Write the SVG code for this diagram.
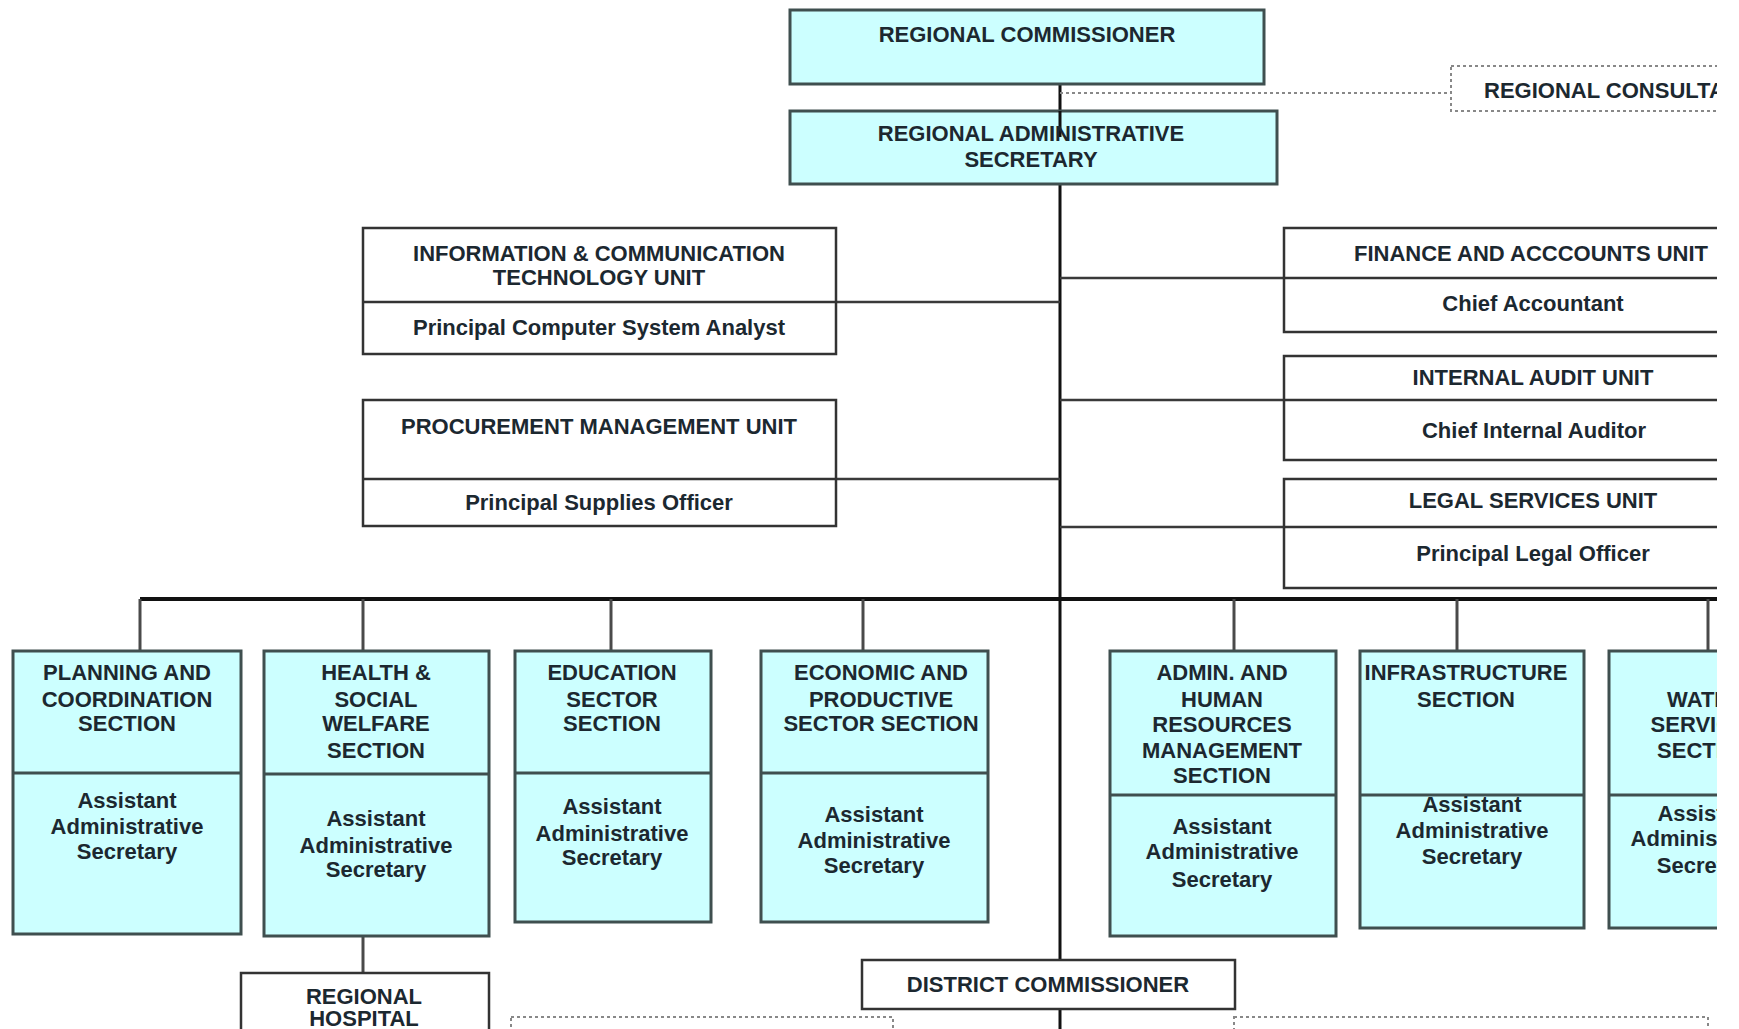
<svg xmlns="http://www.w3.org/2000/svg" width="1739" height="1029" viewBox="0 0 1739 1029">
<style>
.sec{fill:#ccffff;stroke:#3f4f4f;stroke-width:3}
.unit{fill:#ffffff;stroke:#333;stroke-width:2.5}
.div{stroke:#3f4f4f;stroke-width:3}
.udiv{stroke:#333;stroke-width:2.5}
.t{font-family:"Liberation Sans",Arial,sans-serif;font-size:22px;font-weight:bold;fill:#1c2830;text-anchor:middle}
.ts{font-family:"Liberation Sans",Arial,sans-serif;font-size:22px;font-weight:bold;fill:#1c2830;text-anchor:start}
.dot{fill:none;stroke:#888;stroke-width:2;stroke-dasharray:3 3}
.main{stroke:#111;stroke-width:3;fill:none}
.bus{stroke:#111;stroke-width:4;fill:none}
.br{stroke:#3a3a3a;stroke-width:2.5;fill:none}
.drop{stroke:#4a4a4a;stroke-width:3;fill:none}
</style>
<defs>
<clipPath id="page"><rect x="0" y="0" width="1717" height="1029"/></clipPath>
</defs>
<rect x="0" y="0" width="1739" height="1029" fill="#ffffff"/>
<g clip-path="url(#page)">

<g id="connectors">
<line class="main" x1="1060" y1="84" x2="1060" y2="960"/>
<line class="main" x1="1060" y1="1009" x2="1060" y2="1029"/>
<line class="dot" x1="1060" y1="93" x2="1451" y2="93"/>
<line class="br" x1="836" y1="302" x2="1060" y2="302"/>
<line class="br" x1="836" y1="479" x2="1060" y2="479"/>
<line class="br" x1="1060" y1="278" x2="1284" y2="278"/>
<line class="br" x1="1060" y1="400" x2="1284" y2="400"/>
<line class="br" x1="1060" y1="527" x2="1284" y2="527"/>
<line class="bus" x1="140" y1="599" x2="1717" y2="599"/>
<line class="drop" x1="140" y1="599" x2="140" y2="651"/>
<line class="drop" x1="363" y1="599" x2="363" y2="651"/>
<line class="drop" x1="611" y1="599" x2="611" y2="651"/>
<line class="drop" x1="863" y1="599" x2="863" y2="651"/>
<line class="drop" x1="1234" y1="599" x2="1234" y2="651"/>
<line class="drop" x1="1457" y1="599" x2="1457" y2="651"/>
<line class="drop" x1="1708" y1="599" x2="1708" y2="651"/>
<line class="drop" x1="363" y1="936" x2="363" y2="973"/>
</g>

<g id="regional-commissioner">
<rect class="sec" x="790" y="10" width="474" height="74"/>
<text class="t" x="1027" y="42">REGIONAL COMMISSIONER</text>
</g>

<g id="regional-administrative-secretary">
<rect class="sec" x="790" y="111" width="487" height="73"/>
<line class="main" x1="1060" y1="111" x2="1060" y2="137"/>
<text class="t" x="1031" y="141">REGIONAL ADMINISTRATIVE</text>
<text class="t" x="1031" y="167">SECRETARY</text>
</g>

<g id="regional-consultative">
<rect class="dot" x="1451" y="66" width="320" height="45"/>
<text class="ts" x="1484" y="98">REGIONAL CONSULTATIVE</text>
</g>

<g id="ict-unit">
<rect class="unit" x="363" y="228" width="473" height="126"/>
<line class="udiv" x1="363" y1="302" x2="836" y2="302"/>
<text class="t" x="599" y="261">INFORMATION &amp; COMMUNICATION</text>
<text class="t" x="599" y="285">TECHNOLOGY UNIT</text>
<text class="t" x="599" y="335">Principal Computer System Analyst</text>
</g>

<g id="procurement-unit">
<rect class="unit" x="363" y="400" width="473" height="126"/>
<line class="udiv" x1="363" y1="479" x2="836" y2="479"/>
<text class="t" x="599" y="434">PROCUREMENT MANAGEMENT UNIT</text>
<text class="t" x="599" y="510">Principal Supplies Officer</text>
</g>

<g id="finance-unit">
<rect class="unit" x="1284" y="228" width="500" height="104"/>
<line class="udiv" x1="1284" y1="278" x2="1784" y2="278"/>
<text class="t" x="1531" y="261">FINANCE AND ACCCOUNTS UNIT</text>
<text class="t" x="1533" y="311">Chief Accountant</text>
</g>

<g id="internal-audit-unit">
<rect class="unit" x="1284" y="356" width="500" height="104"/>
<line class="udiv" x1="1284" y1="400" x2="1784" y2="400"/>
<text class="t" x="1533" y="385">INTERNAL AUDIT UNIT</text>
<text class="t" x="1534" y="438">Chief Internal Auditor</text>
</g>

<g id="legal-unit">
<rect class="unit" x="1284" y="479" width="500" height="109"/>
<line class="udiv" x1="1284" y1="527" x2="1784" y2="527"/>
<text class="t" x="1533" y="508">LEGAL SERVICES UNIT</text>
<text class="t" x="1533" y="561">Principal Legal Officer</text>
</g>

<g id="planning-section">
<rect class="sec" x="13" y="651" width="228" height="283"/>
<line class="div" x1="13" y1="773" x2="241" y2="773"/>
<text class="t" x="127" y="680">PLANNING AND</text>
<text class="t" x="127" y="707">COORDINATION</text>
<text class="t" x="127" y="731">SECTION</text>
<text class="t" x="127" y="808">Assistant</text>
<text class="t" x="127" y="834">Administrative</text>
<text class="t" x="127" y="859">Secretary</text>
</g>

<g id="health-section">
<rect class="sec" x="264" y="651" width="225" height="285"/>
<line class="div" x1="264" y1="774" x2="489" y2="774"/>
<text class="t" x="376" y="680">HEALTH &amp;</text>
<text class="t" x="376" y="707">SOCIAL</text>
<text class="t" x="376" y="731">WELFARE</text>
<text class="t" x="376" y="758">SECTION</text>
<text class="t" x="376" y="826">Assistant</text>
<text class="t" x="376" y="853">Administrative</text>
<text class="t" x="376" y="877">Secretary</text>
</g>

<g id="education-section">
<rect class="sec" x="515" y="651" width="196" height="271"/>
<line class="div" x1="515" y1="773" x2="711" y2="773"/>
<text class="t" x="612" y="680">EDUCATION</text>
<text class="t" x="612" y="707">SECTOR</text>
<text class="t" x="612" y="731">SECTION</text>
<text class="t" x="612" y="814">Assistant</text>
<text class="t" x="612" y="841">Administrative</text>
<text class="t" x="612" y="865">Secretary</text>
</g>

<g id="economic-section">
<rect class="sec" x="761" y="651" width="227" height="271"/>
<line class="div" x1="761" y1="773" x2="988" y2="773"/>
<text class="t" x="881" y="680">ECONOMIC AND</text>
<text class="t" x="881" y="707">PRODUCTIVE</text>
<text class="t" x="881" y="731">SECTOR SECTION</text>
<text class="t" x="874" y="822">Assistant</text>
<text class="t" x="874" y="848">Administrative</text>
<text class="t" x="874" y="873">Secretary</text>
</g>

<g id="admin-hr-section">
<rect class="sec" x="1110" y="651" width="226" height="285"/>
<line class="div" x1="1110" y1="795" x2="1336" y2="795"/>
<text class="t" x="1222" y="680">ADMIN. AND</text>
<text class="t" x="1222" y="707">HUMAN</text>
<text class="t" x="1222" y="732">RESOURCES</text>
<text class="t" x="1222" y="758">MANAGEMENT</text>
<text class="t" x="1222" y="783">SECTION</text>
<text class="t" x="1222" y="834">Assistant</text>
<text class="t" x="1222" y="859">Administrative</text>
<text class="t" x="1222" y="887">Secretary</text>
</g>

<g id="infrastructure-section">
<rect class="sec" x="1360" y="651" width="224" height="277"/>
<line class="div" x1="1360" y1="795" x2="1584" y2="795"/>
<text class="t" x="1466" y="680">INFRASTRUCTURE</text>
<text class="t" x="1466" y="707">SECTION</text>
<text class="t" x="1472" y="812">Assistant</text>
<text class="t" x="1472" y="838">Administrative</text>
<text class="t" x="1472" y="864">Secretary</text>
</g>

<g id="water-section">
<rect class="sec" x="1609" y="651" width="200" height="277"/>
<line class="div" x1="1609" y1="795" x2="1809" y2="795"/>
<text class="t" x="1706" y="707">WATER</text>
<text class="t" x="1706" y="732">SERVICES</text>
<text class="t" x="1706" y="758">SECTION</text>
<text class="t" x="1707" y="821">Assistant</text>
<text class="t" x="1707" y="846">Administrative</text>
<text class="t" x="1707" y="873">Secretary</text>
</g>

<g id="regional-hospital">
<rect class="unit" x="241" y="973" width="248" height="80"/>
<text class="t" x="364" y="1004">REGIONAL</text>
<text class="t" x="364" y="1026">HOSPITAL</text>
</g>

<g id="district-commissioner">
<rect class="unit" x="862" y="960" width="373" height="49"/>
<text class="t" x="1048" y="992">DISTRICT COMMISSIONER</text>
</g>

<g id="district-dotted-left">
<rect class="dot" x="511" y="1017" width="382" height="40"/>
</g>
<g id="district-dotted-right">
<rect class="dot" x="1234" y="1017" width="474" height="40"/>
</g>

</g>
</svg>
